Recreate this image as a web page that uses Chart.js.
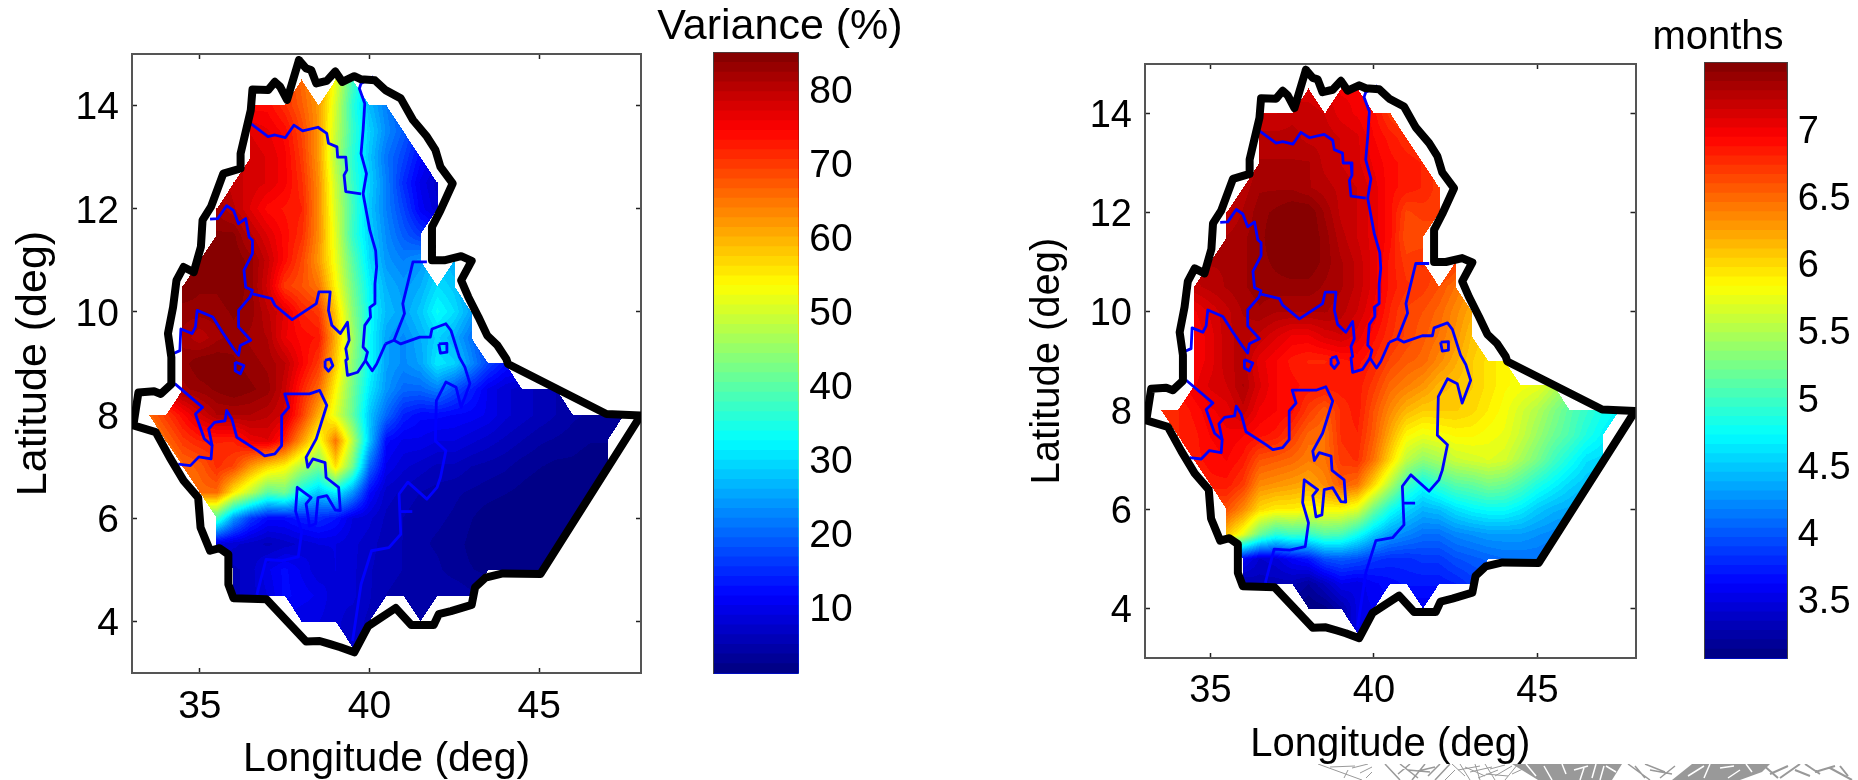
<!DOCTYPE html>
<html>
<head>
<meta charset="utf-8">
<title>Ethiopia maps</title>
<script src="https://cdn.jsdelivr.net/npm/chart.js@4"></script>
<style>
  html, body { margin: 0; padding: 0; background: #fff; overflow: hidden; width: 1858px; height: 780px; }
  .box { position: absolute; }
  svg.scrap { position: absolute; left: 1300px; top: 764px; }
</style>
</head>
<body>
<div class="box" style="left:0;top:0;width:700px;height:800px"><canvas id="mapLeft"></canvas></div>
<div class="box" style="left:650px;top:0;width:260px;height:780px"><canvas id="barLeft"></canvas></div>
<div class="box" style="left:1000px;top:0;width:700px;height:800px"><canvas id="mapRight"></canvas></div>
<div class="box" style="left:1578px;top:0;width:280px;height:780px"><canvas id="barRight"></canvas></div>
<!-- scrap of the grey picture under the figure -->
<svg class="scrap" width="558" height="16" fill="none" stroke="#999">
  <path fill="#999" stroke="none" d="M212 0H322L312 16H238ZM372 16L392 0H470L462 8L440 16Z"/>
  <path stroke="#fff" stroke-width="1.5" d="M226 0L236 12M244 2L252 16M262 0L266 10M274 6L288 2M280 16L284 4M296 0L292 14M304 2L300 16M316 8L306 2M388 12L404 2M410 0L404 14M420 4L434 2M428 14L440 6M446 0L452 8"/>
  <path stroke-width="1" d="M18 0L40 8L62 16M30 3L55 2M48 6L44 14M52 4L68 0M60 9L72 3M66 14L72 8"/>
  <path stroke-width="1.5" d="M85 0L100 16M98 10L110 0M100 0L118 14M112 16L125 0M118 7L135 3M128 12L140 0M135 16L150 0M108 6L130 8"/>
  <path stroke-width="1" d="M145 16L155 6M152 0L165 12M160 0L170 16M165 3L185 12M175 0L180 16M170 8L192 3M185 0L195 16M190 5L205 1M195 12L212 2M205 16L218 0M212 10L225 4M158 6L180 2M178 14L198 6M186 10L208 12"/>
  <path stroke-width="1.5" d="M328 0L350 16M335 2L345 14M345 0L365 8M360 14L375 2M350 6L372 10"/>
  <path stroke-width="2" d="M470 10L488 2M480 14L500 0M495 6L510 12M505 0L520 10M515 8L535 2M530 4L552 16M540 2L548 12M462 0L478 14"/>
</svg>
<script>
// grid nodes (deg)
const lonGrid = [33.5,34,34.5,35,35.5,36,36.5,37,37.5,38,38.5,39,39.5,40,40.5,41,41.5,42,42.5,43,43.5,44,44.5,45,45.5,46,46.5,47,47.5];
const latGrid = [14.5,14,13.5,13,12.5,12,11.5,11,10.5,10,9.5,9,8.5,8,7.5,7,6.5,6,5.5,5,4.5,4,3.5];
const _ = null;

// variance explained (%), one row per latGrid value
const varianceRows = [
  [_,_,_,_,_,_,_,_,_,66,_,52,38],
  [_,_,_,_,_,_,74,74,71,67,62,50,36,27,22],
  [_,_,_,_,_,_,77,76,74,69,62,49,37,29,23,19],
  [_,_,_,_,_,_,78,77,75,70,62,47,36,28,21,17,12],
  [_,_,_,_,_,79,78,77,75,71,63,49,37,29,22,15,10,7],
  [_,_,_,_,82,80,77,74,73,72,63,50,38,28,22,17,11,8],
  [_,_,_,_,84,84,80,77,74,71,63,51,37,29,23,19,16],
  [_,_,_,85,85,85,83,79,74,69,62,52,40,30,24,22,24,_,26],
  [_,_,85,84,84,85,83,78,70,68,65,54,42,32,26,24,26,30,28],
  [_,_,83,83,83,84,83,80,77,72,70,58,44,33,27,25,28,33,30,25],
  [_,_,82,80,82,83,82,81,76,74,73,60,46,33,25,23,26,29,26,21],
  [_,_,83,85,85,84,83,82,80,75,70,58,44,33,25,23,25,31,29,23,17,13],
  [_,_,82,83,84,85,84,83,79,72,66,54,42,31,24,20,20,22,18,14,10,8,7,6,5],
  [66,70,74,78,81,81,81,80,78,70,60,51,41,28,20,14,12,12,11.5,11,10,8,7,6,5,4,3.5,3,3],
  [_,66,70,72,72,72,76,77,72,62,52,65,48,28,12,10,10,9,9,8,7,6,5,4,3.5,3,2.5,2.5],
  [_,_,66,67,71,69,62,57,54,47,42,56,42,20,10,8,7,6,6,5,4.5,4,3,2.5,2,2,1.5,1.5],
  [_,_,_,66,66,55,48,40,42,33,28,32,24,12,7,6,5,4.5,4,3.5,3,2.5,2,1.5,1.2,1,1],
  [_,_,_,_,38,24,16,12,12,14,15,13,9,8,6,5,4,4,3.5,2.5,1.5,1.2,1,1,1,1],
  [_,_,_,_,9,8,7,6,7,8,9,9,8,7,5.5,5,4,3.5,3,2,1.5,1.2,1,1,1],
  [_,_,_,_,_,6,7,10,12,10,8,9,8,6.5,5.5,5,4.5,4,3,2.5,2,1.5,1.2,1.2],
  [_,_,_,_,_,6,7,9,12,11,10,8,8,6.5,5,4.5,4.5,5,5,4],
  [_,_,_,_,_,_,_,_,_,9,9,8,7,6,_,_,5],
  [_,_,_,_,_,_,_,_,_,_,_,_,7]
];

// rainy season length (months)
const monthRows = [
  [_,_,_,_,_,_,_,_,_,7.1,_,7.0,7.0],
  [_,_,_,_,_,_,7.15,7.15,7.2,7.2,7.15,7.05,7.0,6.9,6.7],
  [_,_,_,_,_,_,7.25,7.25,7.25,7.2,7.2,7.15,7.1,6.95,6.85,6.75],
  [_,_,_,_,_,_,7.3,7.3,7.3,7.3,7.2,7.15,7.1,7.0,6.9,6.85,6.8],
  [_,_,_,_,_,7.25,7.35,7.35,7.35,7.3,7.25,7.2,7.15,7.05,6.9,6.85,6.8,6.7],
  [_,_,_,_,7.2,7.3,7.4,7.45,7.5,7.5,7.35,7.2,7.15,7.05,6.9,6.65,6.7,6.7],
  [_,_,_,_,7.3,7.35,7.4,7.5,7.5,7.5,7.4,7.25,7.15,7.05,6.9,6.6,6.6],
  [_,_,_,7.3,7.3,7.35,7.4,7.45,7.5,7.5,7.4,7.3,7.2,7.05,6.85,6.7,6.75,_,6.7],
  [_,_,7.2,7.25,7.3,7.35,7.4,7.4,7.4,7.4,7.35,7.3,7.2,7.05,6.85,6.75,6.7,6.6,6.45],
  [_,_,7.0,7.1,7.2,7.3,7.35,7.3,7.3,7.3,7.3,7.25,7.15,7.0,6.8,6.65,6.6,6.5,6.35,6.2],
  [_,_,6.95,7.05,7.2,7.25,7.2,7.1,7.0,7.0,7.1,7.15,7.05,6.9,6.75,6.65,6.55,6.45,6.3,6.1],
  [_,_,6.95,7.05,7.2,7.25,7.05,6.95,6.85,6.8,6.8,6.85,6.9,6.8,6.65,6.55,6.5,6.35,6.2,6.05,5.95,5.85],
  [_,_,7.0,7.1,7.15,7.3,7.1,6.95,6.9,6.85,6.85,6.85,6.85,6.7,6.5,6.4,6.3,6.15,6.1,6.05,5.95,5.85,5.8,5.75,5.55],
  [6.75,6.8,6.9,7.0,7.05,7.2,7.0,6.95,6.9,6.7,6.55,6.75,6.85,6.6,6.35,6.15,6.05,6.05,6.05,6.0,5.9,5.8,5.65,5.5,5.3,5.1,4.95,4.8,4.7],
  [_,6.8,6.85,6.95,7.0,6.95,6.9,6.85,6.7,6.5,6.45,6.75,6.8,6.55,6.2,5.85,5.75,5.8,5.85,5.85,5.8,5.75,5.6,5.4,5.2,5.05,4.85,4.7],
  [_,_,6.85,6.9,6.95,6.85,6.6,6.55,6.5,6.4,6.45,6.7,6.75,6.45,6.0,5.55,5.35,5.45,5.6,5.65,5.7,5.65,5.45,5.25,5.0,4.8,4.6,4.55],
  [_,_,_,6.85,6.85,6.7,6.35,6.3,6.25,6.2,6.35,6.55,6.45,6.0,5.5,5.0,4.75,4.95,5.1,5.15,5.25,5.2,5.05,4.85,4.7,4.55,4.45],
  [_,_,_,_,6.6,6.35,6.0,5.9,5.9,5.85,5.85,5.85,5.7,5.2,4.8,4.55,4.4,4.45,4.6,4.7,4.75,4.75,4.65,4.5,4.4,4.35],
  [_,_,_,_,6.1,5.75,5.2,4.9,5.0,4.95,5.1,5.05,4.8,4.5,4.3,4.2,4.1,4.1,4.2,4.25,4.3,4.3,4.3,4.25,4.2],
  [_,_,_,_,_,3.6,3.4,3.45,3.6,3.7,3.95,4.0,3.95,3.85,3.8,3.8,3.85,3.85,3.95,4.0,4.05,4.1,4.1,4.1],
  [_,_,_,_,_,3.25,3.3,3.3,3.3,3.2,3.35,3.55,3.5,3.6,3.65,3.7,3.7,3.7,3.75,3.85],
  [_,_,_,_,_,_,_,_,_,3.05,3.1,3.25,3.5,3.55,_,_,3.55],
  [_,_,_,_,_,_,_,_,_,_,_,_,3.5]
];

// country border, [lon, lat]
const countryBorder = [
  [37.92,14.88],[38.13,14.72],[38.28,14.69],[38.43,14.43],[38.74,14.48],[38.99,14.66],[39.2,14.46],[39.55,14.57],
  [39.75,14.51],[40.16,14.49],[40.47,14.30],[40.92,14.14],[41.28,13.72],[41.69,13.40],[41.94,13.14],[42.09,12.81],
  [42.45,12.49],[42.09,11.97],[41.84,11.65],[41.84,11.0],[42.2,11.0],[42.7,11.08],[43.01,10.99],[42.70,10.61],
  [42.91,10.29],[43.21,9.9],[43.47,9.54],[43.77,9.35],[44.03,9.09],[44.08,8.99],[46.98,8.02],[47.99,7.99],
  [45.04,4.92],[43.93,4.93],[43.42,4.85],[43.11,4.66],[43.01,4.32],[42.4,4.2],[42.04,4.14],[41.89,3.93],
  [41.23,3.93],[40.77,4.26],[39.96,3.91],[39.55,3.40],[39.14,3.5],[38.84,3.56],[38.53,3.62],[38.13,3.61],
  [36.96,4.43],[35.99,4.45],[35.84,4.72],[35.84,5.3],[35.58,5.42],[35.3,5.37],[35.02,5.82],[34.95,6.4],
  [34.52,6.73],[34.11,7.18],[33.70,7.67],[33.04,7.8],[33.09,8.02],[33.19,8.44],[33.65,8.46],[33.85,8.41],
  [34.16,8.6],[34.16,9.12],[34.06,9.58],[34.21,10.09],[34.31,10.61],[34.52,10.87],[34.82,10.77],[35.03,11.26],
  [35.08,11.78],[35.33,12.04],[35.69,12.68],[36.2,12.78],[36.2,13.07],[36.5,13.91],[36.55,14.31],[37.01,14.30],
  [37.21,14.46],[37.36,14.37],[37.57,14.11],[37.92,14.88]
];

// regional borders, [lon, lat]
const regionLines = [
  [[36.50,13.65],[37.01,13.40],[37.21,13.43],[37.52,13.38],[37.77,13.62],[38.03,13.51],[38.48,13.58],[38.74,13.46],[38.79,13.27],[39.04,13.20],[39.06,13.0],[39.30,13.0],[39.33,12.75],[39.25,12.65],[39.30,12.33],[39.75,12.29]],
  [[40.11,14.56],[39.75,14.43],[39.70,14.33],[39.86,14.04],[39.81,13.52],[39.75,13.07],[39.91,12.68],[39.81,12.29],[40.01,11.58],[40.18,11.19],[40.21,10.87],[40.16,10.55],[40.16,10.16],[40.01,10.09],[40.03,9.90],[39.86,9.74],[39.81,9.32],[39.94,9.22],[39.88,9.06],[40.08,8.86],[40.21,8.99],[40.47,9.38]],
  [[35.30,11.80],[35.53,11.81],[35.79,12.06],[35.99,11.97],[36.14,11.71],[36.35,11.81],[36.45,11.45],[36.55,11.39],[36.55,11.13],[36.30,10.81],[36.35,10.48],[36.55,10.42],[36.48,10.29],[36.14,10.03],[36.14,9.71],[36.50,9.45],[36.19,9.35],[36.14,9.16],[35.99,9.29],[35.69,9.58],[35.38,9.90],[34.92,10.03],[34.87,9.71],[34.77,9.58],[34.44,9.67],[34.41,9.25],[34.21,9.19]],
  [[36.55,10.35],[37.11,10.26],[37.21,10.13],[37.72,9.85],[38.43,10.16],[38.51,10.39],[38.84,10.39],[38.79,10.03],[38.89,9.74],[39.14,9.58],[39.35,9.80],[39.40,9.45],[39.30,9.29],[39.35,9.09],[39.30,9.06],[39.35,8.77],[39.65,8.83],[39.88,9.06]],
  [[41.69,10.97],[41.28,10.97],[40.98,10.16],[41.03,9.97],[40.72,9.45],[40.47,9.38]],
  [[40.72,9.45],[40.92,9.38],[41.48,9.51],[41.79,9.51],[41.84,9.67],[42.25,9.77],[42.40,9.64],[42.65,9.12],[42.81,8.93],[42.96,8.61],[42.70,8.15],[42.55,8.54],[42.25,8.64],[41.97,8.28],[41.94,7.50],[42.25,7.31],[42.09,6.79],[41.99,6.60],[41.69,6.37],[41.13,6.70],[40.87,6.47],[40.92,5.69],[40.57,5.43],[40.06,5.37],[39.75,4.72],[39.50,3.62]],
  [[40.92,6.13],[41.26,6.13]],
  [[38.69,9.06],[38.84,9.09],[38.92,8.96],[38.79,8.85],[38.69,8.93],[38.69,9.06]],
  [[36.04,9.03],[36.30,8.96],[36.19,8.80],[36.04,8.86],[36.04,9.03]],
  [[42.04,9.38],[42.28,9.39],[42.28,9.22],[42.09,9.20],[42.04,9.38]],
  [[34.26,8.61],[35.08,8.15],[34.87,8.02],[35.13,7.54],[35.36,7.41],[35.33,7.15],[34.97,7.19],[34.72,7.02],[34.36,7.05]],
  [[35.36,7.41],[35.26,7.73],[35.43,7.86],[35.74,7.89],[35.79,8.09],[35.94,7.93],[36.09,7.57],[36.70,7.31],[36.91,7.21],[37.21,7.25],[37.41,7.41],[37.41,7.99],[37.62,8.15],[37.50,8.41],[38.23,8.41],[38.53,8.48],[38.74,8.19],[38.43,7.54],[38.13,7.18],[38.18,6.99],[38.33,7.15],[38.69,7.08],[38.72,6.79],[39.09,6.60],[39.14,6.15],[38.99,6.16],[38.74,6.44],[38.48,6.40],[38.41,5.89],[38.23,5.85],[38.13,6.28],[38.28,6.40],[37.87,6.60],[37.82,6.14],[38.0,5.73],[37.9,5.25],[37.42,5.18],[36.95,5.2],[36.68,4.52]]
];

const lonTicks = [35,40,45];
const latTicks = [4,6,8,10,12,14];
const varianceTicks = [10,20,30,40,50,60,70,80];
const monthTicks = [3.5,4,4.5,5,5.5,6,6.5,7];
const varianceRange = [1.1,85];
const monthRange = [3.06,7.5];

// --------- jet colormap, 64 steps like matlab
function jet(t) {
  const i = Math.max(0, Math.min(63, Math.floor(t * 64)));
  const f = (i + 0.5) / 64;
  const c = v => Math.round(255 * Math.max(0, Math.min(1, v)));
  return `rgb(${c(1.5 - Math.abs(4*f - 3))},${c(1.5 - Math.abs(4*f - 2))},${c(1.5 - Math.abs(4*f - 1))})`;
}

// fills the field between grid nodes, corners placed through the chart scales
function fieldPlugin(rows, range) {
  return {
    id: 'field',
    beforeDatasetsDraw(chart) {
      const { ctx, scales: { x, y } } = chart;
      const val = (r, c) => { const v = rows[r] && rows[r][c]; return v === undefined ? null : v; };
      for (let r = 0; r < latGrid.length - 1; r++) {
        for (let c = 0; c < lonGrid.length - 1; c++) {
          let a = val(r, c), b = val(r, c + 1), d = val(r + 1, c), e = val(r + 1, c + 1);
          const n = [a, b, d, e].filter(v => v !== null).length;
          if (n < 3) continue;
          // one corner missing: only the triangle of the other three is painted
          let cut = null;
          if (a === null) { cut = (u, v) => u + v >= 1; a = b + d - e; }
          else if (b === null) { cut = (u, v) => (1 - u) + v >= 1; b = a + e - d; }
          else if (d === null) { cut = (u, v) => u + (1 - v) >= 1; d = a + e - b; }
          else if (e === null) { cut = (u, v) => (1 - u) + (1 - v) >= 1; e = b + d - a; }
          const x0 = x.getPixelForValue(lonGrid[c]), x1 = x.getPixelForValue(lonGrid[c + 1]);
          const y0 = y.getPixelForValue(latGrid[r]), y1 = y.getPixelForValue(latGrid[r + 1]);
          for (let py = Math.floor(y0); py < Math.ceil(y1); py++) {
            const v = Math.max(0, Math.min(1, (py + 0.5 - y0) / (y1 - y0)));
            for (let px = Math.floor(x0); px < Math.ceil(x1); px++) {
              const u = Math.max(0, Math.min(1, (px + 0.5 - x0) / (x1 - x0)));
              if (cut && !cut(u, v)) continue;
              const z = a*(1-u)*(1-v) + b*u*(1-v) + d*(1-u)*v + e*u*v;
              ctx.fillStyle = jet((z - range[0]) / (range[1] - range[0]));
              ctx.fillRect(px, py, 1, 1);
            }
          }
        }
      }
    }
  };
}

function toPoints(line) { return line.map(p => ({ x: p[0], y: p[1] })); }

const FONT = 'Liberation Sans, Arial, sans-serif';

function plainAxis(axis, position, min, max, ticksList, tick, size) {
  return {
    type: 'linear', axis, position, min, max, z: 1,
    afterBuildTicks: s => { s.ticks = ticksList.map(v => ({ value: v })); },
    afterFit: s => { if (axis === 'x') s.height = 0; else s.width = size || 0; },
    ticks: { display: false },
    border: { color: '#555', width: 2 },
    grid: { drawOnChartArea: false, tickLength: -tick, tickColor: '#222', tickWidth: 1.5 }
  };
}

function makeMap(id, rows, range, box) {
  const datasets = [{
    data: toPoints(countryBorder), showLine: true, pointRadius: 0,
    borderColor: '#000', borderWidth: 8, borderJoinStyle: 'round', borderCapStyle: 'round', order: 0
  }];
  regionLines.forEach(line => datasets.push({
    data: toPoints(line), showLine: true, pointRadius: 0,
    borderColor: '#0000ff', borderWidth: 2.8, borderJoinStyle: 'round', order: 1
  }));
  return new Chart(document.getElementById(id), {
    type: 'scatter',
    data: { datasets },
    plugins: [fieldPlugin(rows, range)],
    options: {
      responsive: true, maintainAspectRatio: false, animation: false,
      layout: { padding: { top: box.top, right: box.right, left: 0, bottom: 0 } },
      plugins: { legend: { display: false }, tooltip: { enabled: false }, title: { display: false } },
      scales: {
        x: {
          type: 'linear', position: 'bottom', min: 33, max: 48, z: 1,
          afterBuildTicks: s => { s.ticks = lonTicks.map(v => ({ value: v })); },
          afterFit: s => { s.height = box.bottom; },
          ticks: { color: '#000', font: { family: FONT, size: box.tickSize }, padding: box.xPad, maxRotation: 0, autoSkip: false, callback: v => String(v) },
          border: { color: '#555', width: 2 },
          grid: { drawOnChartArea: false, tickLength: -5, tickColor: '#222', tickWidth: 1.5 },
          title: { display: true, text: 'Longitude (deg)', color: '#000', font: { family: FONT, size: box.labelSize }, padding: { top: 0, bottom: box.xTitle } }
        },
        y: {
          type: 'linear', position: 'left', min: 3, max: 15, z: 1,
          afterBuildTicks: s => { s.ticks = latTicks.map(v => ({ value: v })); },
          afterFit: s => { s.width = box.left; },
          ticks: { color: '#000', font: { family: FONT, size: box.tickSize }, padding: box.yPad, labelOffset: 3, autoSkip: false, callback: v => String(v) },
          border: { color: '#555', width: 2 },
          grid: { drawOnChartArea: false, tickLength: -5, tickColor: '#222', tickWidth: 1.5 },
          title: { display: true, text: 'Latitude (deg)', color: '#000', font: { family: FONT, size: box.latSize }, padding: { top: box.yTitle, bottom: 0 } }
        },
        x2: plainAxis('x', 'top', 33, 48, lonTicks, 5),
        y2: plainAxis('y', 'right', 3, 15, latTicks, 5)
      }
    }
  });
}

// colorbar: 64 floating bars, the lowest one is on top so there are no seams
function makeBar(id, title, ticksList, range, box) {
  const datasets = [];
  for (let i = 0; i < 64; i++) {
    datasets.push({
      data: [[range[0], range[0] + (range[1] - range[0]) * (i + 1) / 64]],
      backgroundColor: jet((i + 0.5) / 64), borderWidth: 0,
      grouped: false, barPercentage: 1, categoryPercentage: 1
    });
  }
  return new Chart(document.getElementById(id), {
    type: 'bar',
    data: { labels: [title], datasets },
    options: {
      responsive: true, maintainAspectRatio: false, animation: false,
      layout: { padding: { left: 0, bottom: box.bottom, top: 0, right: 0 } },
      plugins: {
        legend: { display: false }, tooltip: { enabled: false },
        title: { display: true, text: title, color: '#000', font: { family: FONT, size: box.titleSize, weight: 'normal', lineHeight: 1 }, padding: box.titlePad }
      },
      scales: {
        x: {
          type: 'category', position: 'bottom', z: 1,
          afterFit: s => { s.height = 0; },
          ticks: { display: false },
          border: { color: '#444', width: 2 },
          grid: { drawOnChartArea: false, drawTicks: false }
        },
        xt: {
          type: 'linear', axis: 'x', position: 'top', z: 1, min: 0, max: 1,
          afterFit: s => { s.height = 0; },
          ticks: { display: false },
          border: { color: '#444', width: 2 },
          grid: { drawOnChartArea: false, drawTicks: false }
        },
        y: {
          type: 'linear', position: 'right', min: range[0], max: range[1], z: 1,
          afterBuildTicks: s => { s.ticks = ticksList.map(v => ({ value: v })); },
          afterFit: s => { s.width = box.right; },
          ticks: { color: '#000', font: { family: FONT, size: box.tickSize }, padding: box.tickPad, labelOffset: 3, autoSkip: false, callback: v => String(v) },
          border: { color: '#444', width: 2 },
          grid: { drawOnChartArea: false, tickLength: -6, tickColor: '#111', tickWidth: 1.5 }
        },
        yl: Object.assign(plainAxis('y', 'left', range[0], range[1], ticksList, 6, box.left), { border: { color: '#444', width: 2 } })
      }
    }
  });
}

makeMap('mapLeft', varianceRows, varianceRange, {
  top: 54, right: 59, bottom: 127, left: 132, tickSize: 39, labelSize: 41, latSize: 43,
  xPad: 16, yPad: 18, xTitle: 16, yTitle: 8
});
makeMap('mapRight', monthRows, monthRange, {
  top: 64, right: 64.5, bottom: 142, left: 145, tickSize: 38, labelSize: 40, latSize: 40,
  xPad: 16, yPad: 18, xTitle: 31, yTitle: 24
});
makeBar('barLeft', 'Variance (%)', varianceTicks, varianceRange, {
  left: 64, right: 111.7, bottom: 106.7, tickSize: 39, titleSize: 43, tickPad: 17,
  titlePad: { top: 5.5, bottom: 4.2 }
});
makeBar('barRight', 'months', monthTicks, monthRange, {
  left: 127, right: 71.3, bottom: 121.7, tickSize: 38, titleSize: 40, tickPad: 17,
  titlePad: { top: 18, bottom: 4.7 }
});
</script>
</body>
</html>
